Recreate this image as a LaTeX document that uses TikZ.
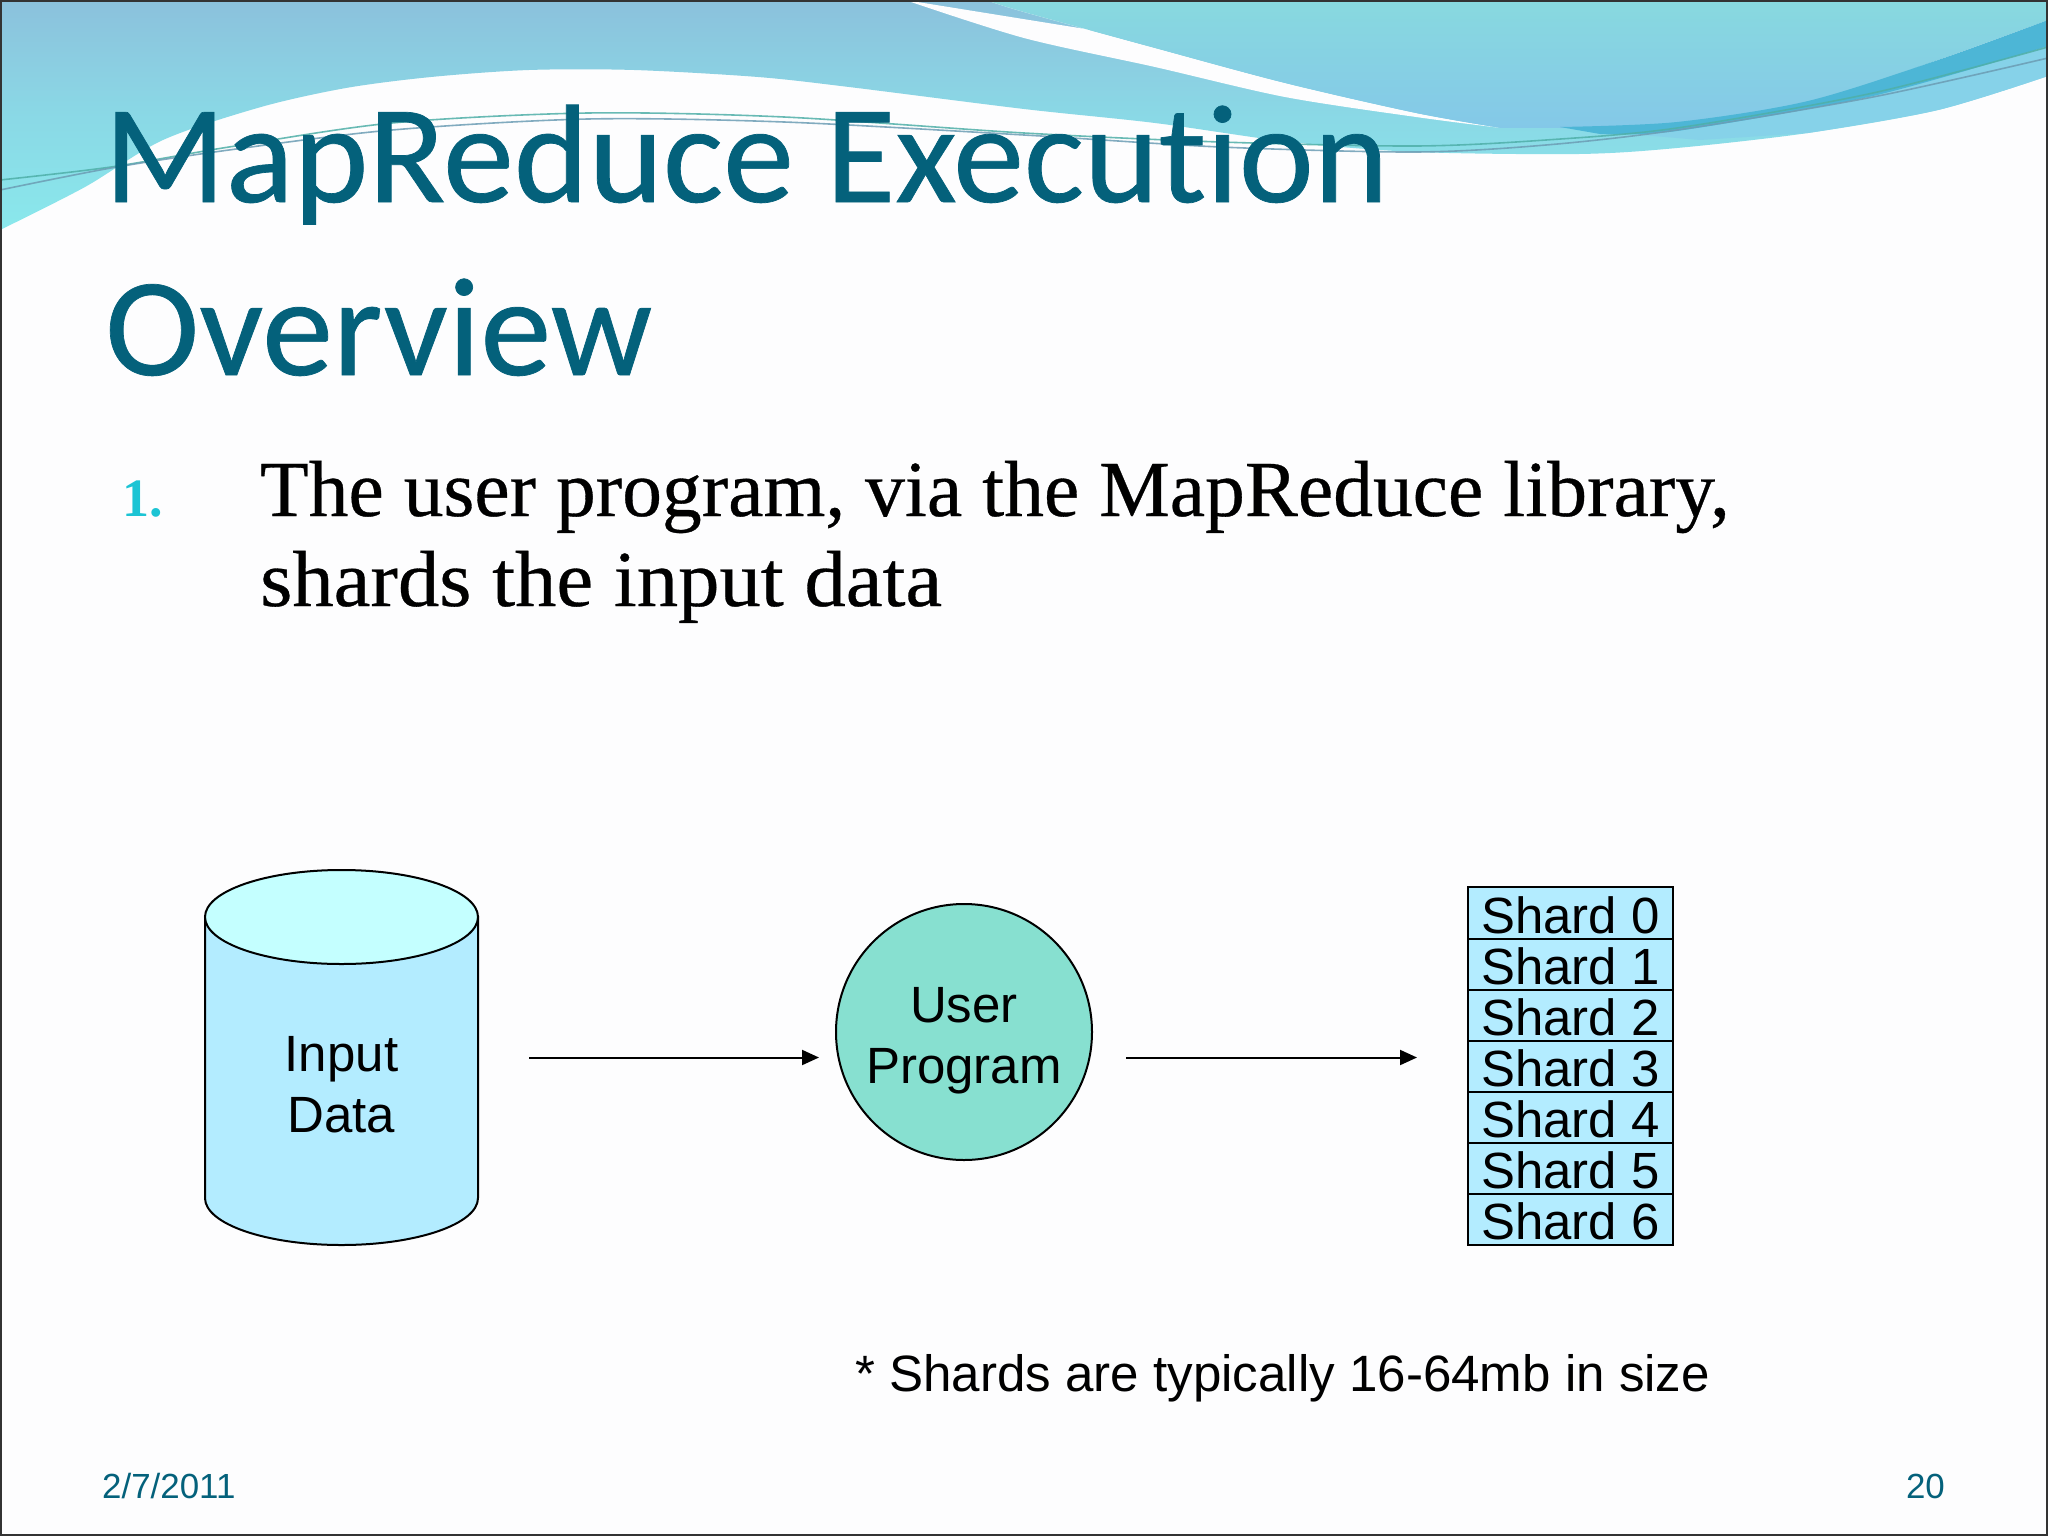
\documentclass[tikz,border=0pt]{standalone}
\usepackage{fontspec}
\setmainfont{Liberation Sans}
\newfontfamily\titlefont[Ligatures=NoCommon,FakeStretch=1.015,FakeBold=0.5]{Carlito}
\newfontfamily\bodyfont[FakeBold=0.4]{Liberation Serif}
\newfontfamily\bodyfontwide[FakeBold=0.4,FakeStretch=1.04]{Liberation Serif}
\newfontfamily\numfont{Liberation Serif}
\usetikzlibrary{arrows.meta}
\definecolor{paper}{HTML}{FDFDFE}
\definecolor{titleteal}{HTML}{04617B}
\definecolor{numteal}{HTML}{1CC4D4}
\definecolor{footteal}{HTML}{04617B}
\definecolor{cyanfill}{HTML}{B3ECFF}
\definecolor{cyantop}{HTML}{C4FFFF}
\definecolor{circfill}{HTML}{87E0D0}
\definecolor{bandtop}{HTML}{8BC1DC}
\definecolor{bandlow}{HTML}{8AE8EC}
\definecolor{tealtop}{HTML}{88D9DF}
\definecolor{teallow}{HTML}{84C8E8}
\definecolor{bandmid}{HTML}{4DB6D6}
\definecolor{wispa}{HTML}{4FAFA8}
\definecolor{wispb}{HTML}{6C9DB4}
\tikzset{
  x=1pt,y=-1pt,
  titletext/.style={anchor=base west,inner sep=0pt,text=titleteal,font=\titlefont\fontsize{140}{140}\selectfont},
  bodytext/.style={anchor=base west,inner sep=0pt,text=black,font=\bodyfont\fontsize{79.5}{79.5}\selectfont},
  shapetext/.style={align=center,inner sep=0pt,font=\fontsize{51}{61}\selectfont},
  shardbox/.style={draw=black,line width=2pt,fill=cyanfill,minimum width=205pt,minimum height=51.14pt,inner sep=0pt,outer sep=0pt,text height=40pt,text depth=0pt,font=\fontsize{50.9}{50.9}\selectfont},
  foot/.style={anchor=base west,inner sep=0pt,text=footteal,font=\fontsize{34.9}{34.9}\selectfont},
  arr/.style={-{Triangle[length=17pt,width=15pt]},line width=2pt,draw=black},
  outline/.style={draw=black,line width=2pt},
  wisp/.style={line width=1.6pt,opacity=.85}
}
\begin{document}
\begin{tikzpicture}
\useasboundingbox (0,0) rectangle (2048,1536);
\fill[paper] (0,0) rectangle (2048,1536);
% banner, left and lower band
\path[top color=bandtop,bottom color=bandlow,middle color=bandlow!60!bandtop]
  plot[smooth] coordinates {(0,230) (85,187) (163,140) (261,107) (346,88) (431,77) (529,70) (634,70) (758,77) (849,87) (1024,109) (1155,123) (1290,142) (1416,152) (1579,154) (1677,148) (1808,133) (1938,110) (2048,76)}
  -- (2048,0) -- (0,0) -- cycle;
% white swoosh
\fill[paper] plot[smooth] coordinates {(905,0) (1024,38) (1155,67) (1285,97) (1416,117) (1501,128)}
  -- plot[smooth] coordinates {(1501,128) (1416,113) (1285,83) (1155,48) (1024,12) (986,0)}
  -- (2048,0) -- (2048,40) -- (1700,128) -- cycle;
% upper right teal area
\path[top color=tealtop,bottom color=teallow]
  plot[smooth] coordinates {(986,0) (1024,12) (1155,48) (1285,83) (1416,113) (1501,128)}
  -- (1560,128) -- plot[smooth] coordinates {(1677,124) (1808,103) (1938,60) (2048,20)}
  -- (2048,0) -- cycle;
% right lower band under the swoosh junction
\path[fill=teallow!70!bandlow]
  plot[smooth] coordinates {(2048,47) (1873,95) (1677,128) (1560,128)}
  -- (1560,128) -- (1700,140) -- plot[smooth] coordinates {(1808,133) (1938,110) (2048,76)} -- cycle;
% darker band
\fill[bandmid] plot[smooth] coordinates {(1560,127) (1677,122) (1808,101) (1938,60) (2048,20)}
  -- plot[smooth] coordinates {(2048,46) (1873,96) (1677,131) (1600,134)} -- cycle;
% thin wisps
\draw[wisp,draw=wispa] plot[smooth] coordinates {(0,180) (111,167) (229,147) (392,123) (588,113) (784,117) (1024,133) (1220,142) (1416,146) (1546,140) (1677,128) (1873,93) (2048,47)};
\draw[wisp,draw=wispb] plot[smooth] coordinates {(0,190) (111,168) (229,150) (392,130) (588,119) (784,122) (1024,135) (1220,147) (1416,152) (1546,145) (1677,130) (1873,97) (2048,58)};

% title and body
\node[titletext] (t1) at (104,202) {MapReduce Execution};
\node[titletext] (t2) at (105,375) {Overview};
\node[bodytext,text=numteal,font=\numfont\bfseries\fontsize{54}{54}\selectfont] (num) at (122,516) {1.};
\node[bodytext] (b1) at (260,516) {The user program, via the MapReduce library,};
\node[bodytext,font=\bodyfontwide\fontsize{79.5}{79.5}\selectfont] (b2) at (260,606) {shards the input data};

% input data cylinder
\path[outline,fill=cyanfill] (205,917) -- (205,1198) arc[start angle=180,end angle=0,x radius=136.5,y radius=47] -- (478,917) -- cycle;
\path[outline,fill=cyantop] (341.5,917) ellipse[x radius=136.5,y radius=47];
\node[minimum width=273pt,minimum height=375pt,inner sep=0pt,outer sep=0pt] (input) at (341.5,1057.5) {};
\node[shapetext] (inputlabel) at (341.5,1085) {Input\\Data};

% user program
\node[circle,outline,fill=circfill,minimum size=256pt,inner sep=0pt,outer sep=0pt] (user) at (964,1032) {};
\node[shapetext] (userlabel) at (964,1041) {User\\Program};

% shards
\node[shardbox] (s0) at (1570.5,913) {Shard 0};
\node[shardbox,anchor=north] (s1) at (s0.south) {Shard 1};
\node[shardbox,anchor=north] (s2) at (s1.south) {Shard 2};
\node[shardbox,anchor=north] (s3) at (s2.south) {Shard 3};
\node[shardbox,anchor=north] (s4) at (s3.south) {Shard 4};
\node[shardbox,anchor=north] (s5) at (s4.south) {Shard 5};
\node[shardbox,anchor=north] (s6) at (s5.south) {Shard 6};

% connectors
\draw[arr,shorten <=51pt,shorten >=17pt] (input.east) -- (input.east -| user.west);
\draw[arr,shorten <=34pt,shorten >=51pt] (input.east -| user.east) -- (input.east -| s3.west);

% notes
\node[anchor=base west,inner sep=0pt,font=\fontsize{51.1}{51.1}\selectfont] (note) at (855,1391) {* Shards are typically 16-64mb in size};
\node[foot] (date) at (102,1498) {2/7/2011};
\node[foot,anchor=base east] (page) at (1945,1498) {20};
% slide frame
\draw[line width=2pt,draw=black!80] (1,1) rectangle (2047,1535);
\end{tikzpicture}
\end{document}
